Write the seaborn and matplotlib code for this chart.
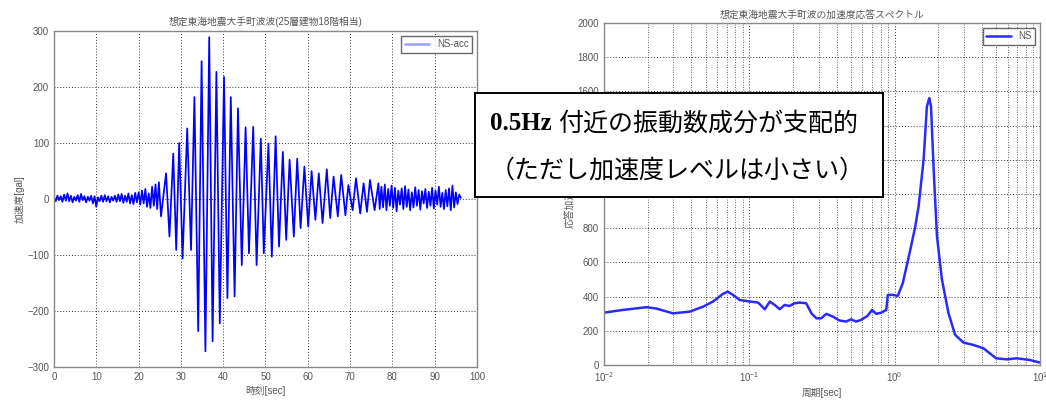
import numpy as np
import pandas as pd
import seaborn as sns
import matplotlib.pyplot as plt
from matplotlib.patches import Rectangle

# ---- acceleration record (NS component) ----
# quiet lead-in, sampled every 0.4 s from t = 0
pre_step = 0.4
pre_vals = [3, -4, 6, -2, 5, -5, 8, -3, 10, -4,
            6, -6, 4, -3, 7, -5, 9, -2, 5, -6,
            4, -3, 6, -8, 5, -14, 3, -4, 6, -5,
            7, -4, 5, -6, 4, -3, 6, -5, 8, -4,
            9, -7, 6, -5, 10, -8, 7, -9, 11, -6,
            12, -10, 15, -8, 18, -14, 10, -16, 22, -12,
            26, -18, 30]

# strong-motion part: successive peaks (time [sec], acceleration [gal])
peak_times = [25.3, 26.5, 27.3, 28.2, 28.9, 29.6, 30.4, 31.5, 32.4, 33.2,
              34.1, 34.9, 35.8, 36.7, 37.5, 38.4, 39.2, 40.2, 41.0, 41.8,
              42.7, 43.5, 44.4, 45.3, 46.1, 47.1, 47.9, 48.9, 49.6, 50.7,
              51.5, 52.4, 53.2, 54.1, 54.9, 55.7, 56.7, 57.5, 58.3, 59.2,
              60.1, 60.9, 61.8, 62.6, 63.5, 64.5, 65.3, 66.1, 67.1, 67.9,
              68.9, 69.6, 70.6, 71.4, 72.4, 73.2, 74.0, 74.7, 75.8, 76.7]
peak_vals = [-31, 46, -67, 81, -91, 100, -106, 126, -91, 182,
             -236, 246, -272, 289, -254, 227, -222, 218, -177, 182,
             -174, 162, -118, 128, -97, 129, -118, 108, -97, 99,
             -103, 112, -85, 84, -73, 70, -67, 72, -52, 58,
             -49, 50, -37, 46, -43, 53, -34, 40, -31, 43,
             -29, 25, -20, 37, -26, 28, -23, 34, -20, 28]

# coda, sampled every 0.4 s from t = 77
post_start = 77.0
post_step = 0.4
post_vals = [-18, 22, -15, 26, -20, 18, -12, 24, -16, 20,
             -22, 15, -10, 19, -18, 23, -14, 17, -20, 12,
             -15, 21, -12, 16, -19, 14, -8, 18, -16, 13,
             -12, 20, -17, 15, -10, 22, -14, 11, -18, 16,
             -13, 19, -20, 24, -15, 12, -9, 8, 2]

# ---- acceleration response spectrum (period [sec], [gal]) ----
periods = [0.01, 0.0135, 0.0196, 0.0229, 0.0299, 0.0389, 0.0481, 0.0563,
           0.0659, 0.0711, 0.0772, 0.0859, 0.1011, 0.115, 0.1278, 0.1384,
           0.1496, 0.1619, 0.175, 0.1896, 0.205, 0.2217, 0.2464, 0.2677,
           0.2895, 0.313, 0.3385, 0.3757, 0.417, 0.4635, 0.5012, 0.542,
           0.586, 0.650, 0.700, 0.748, 0.810, 0.876, 0.898, 0.972,
           1.0516, 1.1375, 1.282, 1.387, 1.462, 1.583, 1.668, 1.733,
           1.78, 1.857, 1.957, 2.118, 2.35, 2.61, 2.98, 3.49,
           4.08, 4.52, 5.0, 5.9, 6.95, 8.55, 10.0]
spec_vals = [306, 322, 338, 330, 302, 312, 341, 371,
             416, 429, 410, 380, 371, 365, 326, 371,
             351, 326, 351, 345, 361, 365, 361, 302,
             273, 273, 299, 283, 260, 254, 267, 254,
             263, 287, 322, 299, 306, 322, 410, 410,
             404, 478, 673, 810, 927, 1200, 1512, 1561,
             1512, 1141, 751, 498, 302, 176, 131, 117,
             98, 68, 39, 33, 39, 29, 14]

# ---- assemble the time history ----
pre_t = np.arange(len(pre_vals)) * pre_step
post_t = post_start + np.arange(len(post_vals)) * post_step
acc = pd.DataFrame({
    "t": np.concatenate([pre_t, peak_times, post_t]),
    "a": np.concatenate([pre_vals, peak_vals, post_vals]).astype(float),
})
spec = pd.DataFrame({"T": periods, "S": spec_vals})

sns.set_theme(style="white")
plt.rcParams["font.family"] = ["Liberation Sans", "Noto Sans CJK JP"]

text_gray = "#555555"
frame_gray = "#888888"

fig = plt.figure(figsize=(10.46, 4.05), dpi=100)
ax1 = fig.add_axes([0.0516, 0.0938, 0.4044, 0.8296])
ax2 = fig.add_axes([0.5774, 0.0988, 0.4168, 0.8444])

# left: acceleration time history
sns.lineplot(data=acc, x="t", y="a", ax=ax1, color="#0000ff", lw=1.25,
             estimator=None, sort=False, label="NS-acc")
ax1.set_xlim(0, 100)
ax1.set_ylim(-300, 300)
ax1.set_xticks(np.arange(0, 101, 10))
ax1.set_yticks(np.arange(-300, 301, 100))
ax1.set_title("想定東海地震大手町波波(25層建物18階相当)", fontsize=7,
              color=text_gray, pad=4)
ax1.set_xlabel("時刻[sec]", fontsize=7, color=text_gray, labelpad=3)
ax1.set_ylabel("加速度[gal]", fontsize=7, color=text_gray, labelpad=2)
ax1.grid(True, which="major", linestyle=(0, (1, 2)), color="#333333", lw=0.7)
leg1 = ax1.legend(loc="upper right", fontsize=7, frameon=True, fancybox=False,
                  edgecolor="#444444", handlelength=2.5, borderpad=0.35,
                  borderaxespad=0.5)
for ln in leg1.get_lines():
    ln.set_color("#a0a8ff")
    ln.set_linewidth(2)
for t in leg1.get_texts():
    t.set_color(text_gray)

# right: acceleration response spectrum
sns.lineplot(data=spec, x="T", y="S", ax=ax2, color="#2a2aff", lw=1.8,
             estimator=None, sort=False, label="NS")
ax2.set_xscale("log")
ax2.set_xlim(0.01, 10)
ax2.set_ylim(0, 2000)
ax2.set_yticks(np.arange(0, 2001, 200))
ax2.set_title("想定東海地震大手町波の加速度応答スペクトル", fontsize=7,
              color=text_gray, pad=4)
ax2.set_xlabel("周期[sec]", fontsize=7, color=text_gray, labelpad=3)
ax2.set_ylabel("応答加速度[gal]", fontsize=7, color=text_gray, labelpad=2)
ax2.grid(True, which="major", linestyle=(0, (1, 2)), color="#333333", lw=0.7)
ax2.grid(True, which="minor", axis="x", linestyle=(0, (1, 2)),
         color="#333333", lw=0.6)
leg2 = ax2.legend(loc="upper right", fontsize=7, frameon=True, fancybox=False,
                  edgecolor="#444444", handlelength=2.5, borderpad=0.35,
                  borderaxespad=0.5)
for t in leg2.get_texts():
    t.set_color(text_gray)

for ax in (ax1, ax2):
    for sp in ax.spines.values():
        sp.set_color(frame_gray)
        sp.set_linewidth(1.0)
    ax.tick_params(which="both", direction="in", colors=frame_gray,
                   labelcolor=text_gray, labelsize=7)
    ax.tick_params(which="major", length=3)
    ax.tick_params(which="minor", length=2)

# annotation box laid over both panels
fig.add_artist(Rectangle((0.454, 0.5136), 0.390, 0.2568,
                         transform=fig.transFigure, facecolor="white",
                         edgecolor="black", lw=1.4, zorder=5))
fig.text(0.4685, 0.694, "0.5Hz", fontsize=18, fontweight="bold",
         family=["Liberation Serif", "Noto Sans CJK JP"],
         ha="left", va="center", color="black", zorder=6)
fig.text(0.5335, 0.694, "付近の振動数成分が支配的", fontsize=18,
         family=["Noto Sans CJK JP"], ha="left", va="center",
         color="black", zorder=6)
fig.text(0.4685, 0.580, "（ただし加速度レベルは小さい）", fontsize=18,
         family=["Noto Sans CJK JP"], ha="left", va="center",
         color="black", zorder=6)

fig.savefig("out.png", dpi=100, facecolor="white")
